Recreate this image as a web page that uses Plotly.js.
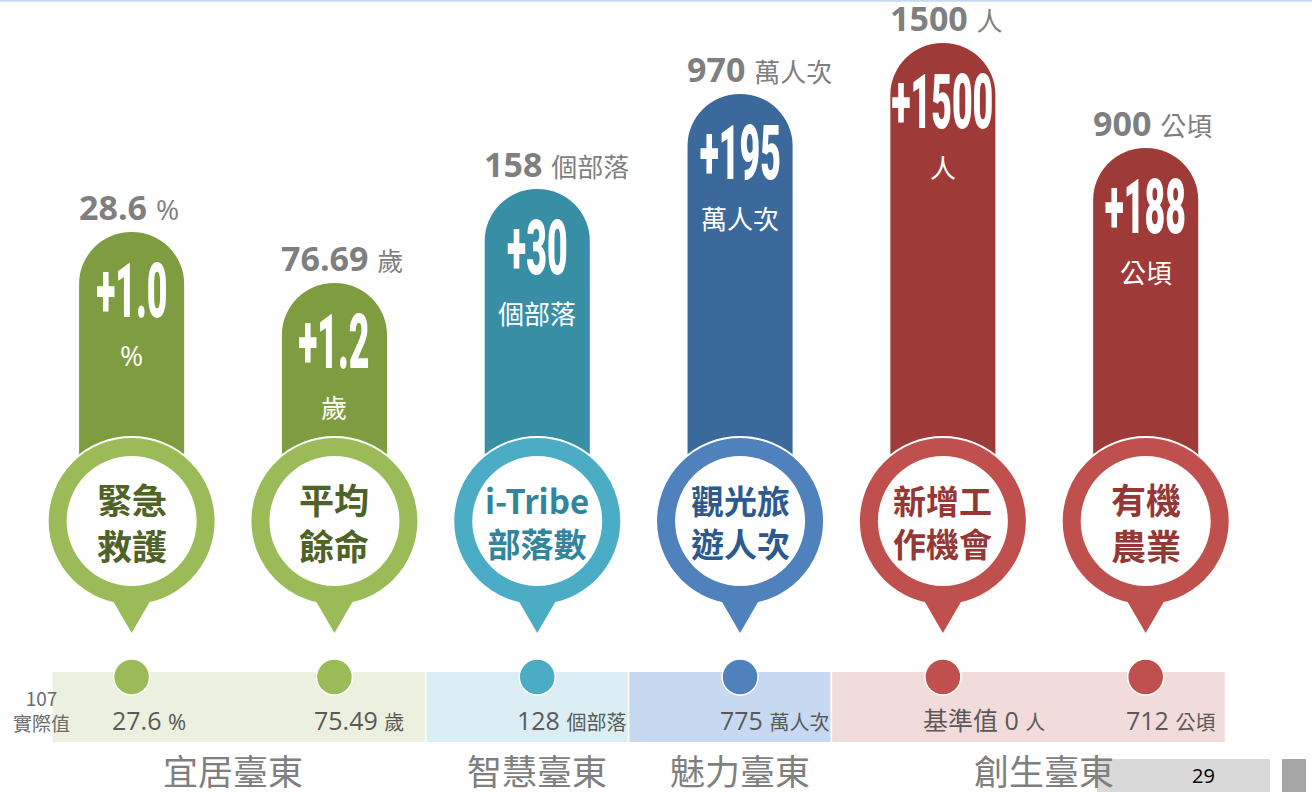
<!DOCTYPE html>
<html>
<head>
<meta charset="utf-8">
<script src="https://cdn.plot.ly/plotly-3.0.1.min.js"></script>
<style>
  html, body { margin: 0; padding: 0; background: #ffffff; }
  #chart { width: 1312px; height: 792px; }
</style>
</head>
<body>
<div id="chart"></div>
<script>
// ---------------- data ----------------
const indicators   = ['緊急救護', '平均餘命', 'i-Tribe部落數', '觀光旅遊人次', '新增工作機會', '有機農業'];
const ringLabels   = ['緊急<br>救護', '平均<br>餘命', 'i-Tribe<br>部落數', '觀光旅<br>遊人次', '新增工<br>作機會', '有機<br>農業'];
const groups       = ['宜居臺東', '宜居臺東', '智慧臺東', '魅力臺東', '創生臺東', '創生臺東'];
const groupNames   = ['宜居臺東', '智慧臺東', '魅力臺東', '創生臺東'];
const targetValues = ['28.6', '76.69', '158', '970', '1500', '900'];
const units        = ['%', '歲', '個部落', '萬人次', '人', '公頃'];
const increments   = ['+1.0', '+1.2', '+30', '+195', '+1500', '+188'];
const baseValues   = ['27.6', '75.49', '128', '775', '基準值 0', '712'];
const baseRowLabel = '107<br>實際值';
const pageNumber   = '29';
// visual height of each pin (arbitrary display units)
const pinHeight    = [289, 238, 332, 427, 478, 373];

// ---------------- styling ----------------
const groupStyle = {
  '宜居臺東': { bar: '#7e9c40', ring: '#9bbb59', text: '#4f6228', band: '#ebf1de' },
  '智慧臺東': { bar: '#378ea5', ring: '#4bacc6', text: '#31859c', band: '#dbeef4' },
  '魅力臺東': { bar: '#3c699b', ring: '#4f81bd', text: '#2c5a8f', band: '#c6d9f1' },
  '創生臺東': { bar: '#9e3a38', ring: '#c0504d', text: '#953735', band: '#f2dcdb' }
};
const RING_Y = 271;   // ring centre level on the y axis
const DOT_Y = 115;    // dot level on the band
const BAND_Y0 = 50, BAND_Y1 = 120;
const CJK = 'Noto Sans CJK TC, Noto Sans CJK SC, sans-serif';
const LAT = 'Open Sans, Noto Sans CJK TC, sans-serif';

const idx = indicators.map((_, i) => i);
const barColors  = groups.map(g => groupStyle[g].bar);
const ringColors = groups.map(g => groupStyle[g].ring);

const traces = [
  {
    type: 'bar', x: idx, y: pinHeight, base: RING_Y,
    marker: { color: barColors, cornerradius: '50%', line: { width: 0 } },
    hoverinfo: 'skip'
  },
  {
    type: 'scatter', mode: 'markers', x: idx, y: idx.map(() => RING_Y),
    marker: { size: 168, color: ringColors, line: { color: '#ffffff', width: 2 } },
    hoverinfo: 'skip'
  },
  {
    type: 'scatter', mode: 'markers', x: idx, y: idx.map(() => RING_Y),
    marker: { size: 130, color: '#ffffff', line: { width: 0 } },
    hoverinfo: 'skip'
  },
  {
    type: 'scatter', mode: 'markers', x: idx, y: idx.map(() => DOT_Y),
    marker: { size: 36, color: ringColors, line: { color: '#ffffff', width: 1.5 } },
    hoverinfo: 'skip'
  }
];

// ---------------- shapes ----------------
const shapes = [];
// top rule
shapes.push({ type: 'line', xref: 'paper', yref: 'paper', x0: 0, x1: 1, y0: 0.999, y1: 0.999,
  line: { color: '#c6d9f1', width: 2 } });
// bands per group
const n = indicators.length;
groupNames.forEach(g => {
  const members = idx.filter(i => groups[i] === g);
  const first = Math.min(...members), last = Math.max(...members);
  const x0 = first === 0 ? first - 0.39 : first - 0.55 + 0.004;
  const x1 = last === n - 1 ? last + 0.39 : last + 0.45 - 0.004;
  shapes.push({ type: 'rect', xref: 'x', yref: 'y', x0: x0, x1: x1, y0: BAND_Y0, y1: BAND_Y1,
    fillcolor: groupStyle[g].band, line: { width: 0 }, layer: 'below' });
});
// pin pointers
idx.forEach(i => {
  shapes.push({ type: 'path', xref: 'x', yref: 'y', xsizemode: 'pixel', ysizemode: 'pixel',
    xanchor: i, yanchor: RING_Y, path: 'M-25,-69 L25,-69 L0,-112 Z',
    fillcolor: ringColors[i], line: { width: 0 }, layer: 'above' });
});
// page number boxes
shapes.push({ type: 'rect', xref: 'paper', yref: 'paper', x0: 1097 / 1312, x1: 1270 / 1312, y0: 0, y1: 33 / 792,
  fillcolor: '#d9d9d9', line: { width: 0 }, layer: 'below' });
shapes.push({ type: 'rect', xref: 'paper', yref: 'paper', x0: 1282 / 1312, x1: 1306 / 1312, y0: 0, y1: 33 / 792,
  fillcolor: '#a6a6a6', line: { width: 0 }, layer: 'below' });

// ---------------- annotations ----------------
const ann = [];
idx.forEach(i => {
  const top = RING_Y + pinHeight[i];
  const u = units[i];
  const uSize = u === '%' ? 28 : 26;
  // target value above pin
  ann.push({ x: i, y: top, xref: 'x', yref: 'y', xanchor: 'left', yanchor: 'middle', xshift: -55, yshift: 25,
    showarrow: false, text: '<b>' + targetValues[i] + '</b> <span style="font-size:' + uSize + 'px">' + u + '</span>',
    font: { family: LAT, size: 34, color: '#7f7f7f' } });
  // increment inside bar
  ann.push({ x: i, y: top, xref: 'x', yref: 'y', xanchor: 'center', yanchor: 'middle', yshift: -59,
    showarrow: false, text: increments[i],
    font: { family: 'Roboto, Liberation Sans, sans-serif', size: 76, weight: 900, color: '#ffffff' } });
  // unit inside bar
  ann.push({ x: i, y: top, xref: 'x', yref: 'y', xanchor: 'center', yanchor: 'middle', yshift: -123,
    showarrow: false, text: u,
    font: { family: u === '%' ? LAT : CJK, size: uSize, color: '#ffffff' } });
  // ring label
  const longest = Math.max(...ringLabels[i].split('<br>').map(s => s.length));
  ann.push({ x: i, y: RING_Y, xref: 'x', yref: 'y', xanchor: 'center', yanchor: 'middle',
    showarrow: false, text: '<b>' + ringLabels[i] + '</b>',
    font: { family: CJK, size: longest <= 2 ? 35 : 33, color: groupStyle[groups[i]].text } });
  // base value on band
  ann.push({ x: i, y: 72, xref: 'x', yref: 'y', xanchor: 'left', yanchor: 'middle', xshift: -22,
    showarrow: false, text: baseValues[i] + ' <span style="font-size:' + (u === '%' ? 22 : 20) + 'px">' + u + '</span>',
    font: { family: LAT, size: 25, color: '#595959' } });
});
// group names
groupNames.forEach(g => {
  const members = idx.filter(i => groups[i] === g);
  const cx = members.reduce((a, b) => a + b, 0) / members.length;
  ann.push({ x: cx, y: 23, xref: 'x', yref: 'y', xanchor: 'center', yanchor: 'middle',
    showarrow: false, text: g, font: { family: CJK, size: 35, color: '#7f7f7f' } });
});
// row label
ann.push({ x: 41 / 1312, y: 82, xref: 'paper', yref: 'y', xanchor: 'center', yanchor: 'middle',
  showarrow: false, text: baseRowLabel, font: { family: CJK, size: 19, color: '#6b6b6b' } });
// page number
ann.push({ x: 1203 / 1312, y: 17, xref: 'paper', yref: 'y', xanchor: 'center', yanchor: 'middle',
  showarrow: false, text: pageNumber, font: { family: LAT, size: 20, color: '#000000' } });

const layout = {
  width: 1312, height: 792,
  margin: { l: 0, r: 0, t: 0, b: 0, pad: 0 },
  paper_bgcolor: '#ffffff', plot_bgcolor: '#ffffff',
  showlegend: false,
  bargap: 0.482,
  xaxis: { range: [-0.649, 5.820], visible: false, fixedrange: true },
  yaxis: { range: [0, 792], visible: false, fixedrange: true },
  shapes: shapes,
  annotations: ann
};

Plotly.newPlot('chart', traces, layout, { staticPlot: true, displayModeBar: false }).then(() => {
  document.querySelectorAll('g.annotation text.annotation-text').forEach(el => {
    if ((el.textContent || '').trim().charAt(0) === '+') {
      el.style.transformBox = 'fill-box';
      el.style.transformOrigin = 'center';
      el.style.transform = 'scaleX(0.47)';
    }
  });
});
</script>
</body>
</html>
